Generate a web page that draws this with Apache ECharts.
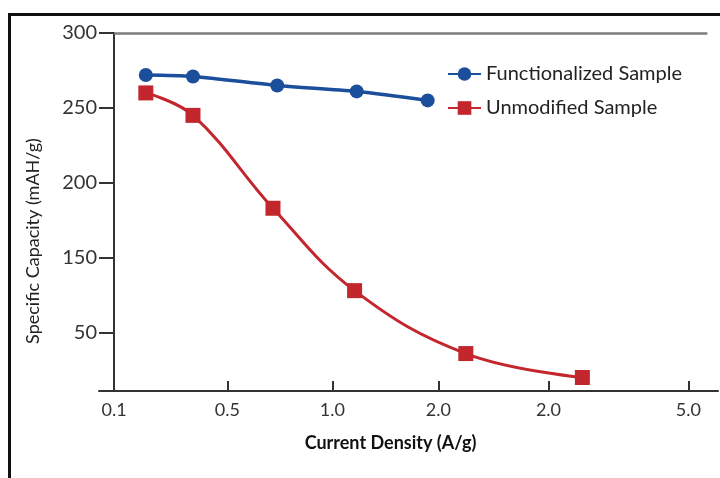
<!DOCTYPE html>
<html>
<head>
<meta charset="utf-8">
<script src="https://cdn.jsdelivr.net/npm/echarts@6/dist/echarts.min.js"></script>
<style>
  html, body { margin: 0; padding: 0; background: #fff; }
  #chart { width: 720px; height: 478px; }
  /* black frame round the figure, cut by the window on the right and bottom */
  #frame { position: absolute; left: 8px; top: 13px; width: 760px; height: 520px;
           border-left: 3px solid #111; border-top: 3px solid #111; pointer-events: none; }
</style>
</head>
<body>
<div id="chart"></div>
<div id="frame"></div>
<script>
  // x is measured along the axis: tick "0.1" sits at 0, about 106px per unit
  var xTickPos = [0, 1.07, 2.06, 3.06, 4.10, 5.42];
  var xTickText = ['0.1', '0.5', '1.0', '2.0', '2.0', '5.0'];
  var yTickPos = [100, 150, 200, 250, 300];
  var yTickText = ['50', '150', '200', '250', '300'];

  var funcX = [0.30, 0.745, 1.54, 2.29, 2.96];
  var funcY = [272, 271, 265, 261, 255];
  var unmodX = [0.30, 0.745, 1.50, 2.27, 3.32, 4.42];
  var unmodY = [260, 245, 183, 128, 86, 70];

  var xMin = -0.142, xMax = 5.70, topLineEnd = 5.60;
  var yMin = 61, yMax = 300;

  var font = 'Lato';
  var blue = '#1c4f9b';
  var red = '#c4262d';

  function pairs(xs, ys) {
    return xs.map(function (x, i) { return [x, ys[i]]; });
  }
  function xLabel(v) {
    var i = xTickPos.indexOf(v);
    return i < 0 ? '' : xTickText[i];
  }
  function yLabel(v) {
    var i = yTickPos.indexOf(v);
    return i < 0 ? '' : yTickText[i];
  }

  var chart = echarts.init(document.getElementById('chart'));
  chart.setOption({
    animation: false,
    grid: { left: 99, right: 2, top: 33, bottom: 87, containLabel: false },
    legend: {
      orient: 'vertical',
      left: 447,
      top: 64,
      padding: 0,
      itemWidth: 33,
      itemHeight: 17,
      itemGap: 14,
      textStyle: { fontFamily: font, fontSize: 20, color: '#222' },
      data: ['Functionalized Sample', 'Unmodified Sample']
    },
    xAxis: {
      type: 'value',
      min: xMin,
      max: xMax,
      name: 'Current Density (A/g)',
      nameLocation: 'middle',
      nameGap: 43,
      nameTextStyle: { fontFamily: font, fontSize: 18, fontWeight: 'bold', color: '#111', padding: [0, 36, 0, 0] },
      splitLine: { show: false },
      axisLine: { lineStyle: { color: '#333', width: 2 } },
      axisTick: { inside: true, length: 10, customValues: xTickPos, lineStyle: { color: '#333', width: 2 } },
      axisLabel: { customValues: xTickPos, formatter: xLabel, margin: 10,
                   fontFamily: font, fontSize: 18, color: '#333' }
    },
    yAxis: [{
      type: 'value',
      min: yMin,
      max: yMax,
      name: 'Specific Capacity (mAH/g)',
      nameLocation: 'middle',
      nameGap: 57,
      nameTextStyle: { fontFamily: font, fontSize: 18, color: '#222', padding: [0, 58, 0, 0] },
      splitLine: { show: false },
      axisLine: { onZero: true, lineStyle: { color: '#333', width: 2 } },
      axisTick: { length: 6, customValues: yTickPos, lineStyle: { color: '#333', width: 2 } },
      axisLabel: { customValues: yTickPos, formatter: yLabel, margin: 2,
                   fontFamily: font, fontSize: 20, color: '#333' }
    }, {
      // second copy only for the inner half of the crossing ticks
      type: 'value',
      min: yMin,
      max: yMax,
      position: 'left',
      splitLine: { show: false },
      axisLine: { show: false, onZero: true },
      axisLabel: { show: false },
      axisTick: { inside: true, length: 9, customValues: yTickPos, lineStyle: { color: '#333', width: 2 } }
    }],
    series: [{
      name: 'Functionalized Sample',
      type: 'line',
      data: pairs(funcX, funcY),
      smooth: 0.3,
      symbol: 'circle',
      symbolSize: 14,
      lineStyle: { color: blue, width: 3.5 },
      itemStyle: { color: blue },
      markLine: {
        silent: true,
        symbol: ['none', 'none'],
        label: { show: false },
        lineStyle: { color: '#7d7d7d', width: 2.5, type: 'solid' },
        data: [[{ coord: [0, yMax] }, { coord: [topLineEnd, yMax] }]]
      }
    }, {
      name: 'Unmodified Sample',
      type: 'line',
      data: pairs(unmodX, unmodY),
      smooth: 0.4,
      symbol: 'rect',
      symbolSize: 15,
      lineStyle: { color: red, width: 3 },
      itemStyle: { color: red }
    }]
  });
</script>
</body>
</html>
